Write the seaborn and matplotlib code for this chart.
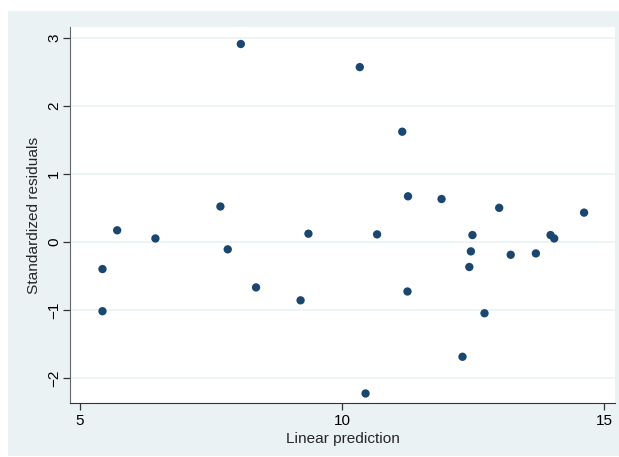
import numpy as np
import pandas as pd
import matplotlib
matplotlib.use("Agg")
import matplotlib.pyplot as plt
import seaborn as sns
from matplotlib.patches import Rectangle

# fitted values and standardized residuals
linear_prediction = [5.43, 5.43, 5.71, 6.44, 7.68, 7.82, 8.07, 8.36, 9.21, 9.36,
                     10.34, 10.45, 10.67, 11.15, 11.25, 11.26, 11.90, 12.30, 12.43, 12.46,
                     12.49, 12.72, 13.00, 13.22, 13.70, 13.98, 14.05, 14.62]
std_residuals = [-0.40, -1.02, 0.17, 0.05, 0.52, -0.11, 2.91, -0.67, -0.86, 0.12,
                 2.57, -2.23, 0.11, 1.62, -0.73, 0.67, 0.63, -1.69, -0.37, -0.14,
                 0.10, -1.05, 0.50, -0.19, -0.17, 0.10, 0.05, 0.43]
x_ticks = [5, 10, 15]
y_ticks = [-2, -1, 0, 1, 2, 3]

df = pd.DataFrame({"pred": linear_prediction, "resid": std_residuals})

sns.set_style("white")
plt.rcParams["font.family"] = ["Liberation Sans", "DejaVu Sans"]

panel = "#eaf2f3"
fig = plt.figure(figsize=(6.19, 4.57), dpi=100)
fig.add_artist(Rectangle((8 / 619, 1 / 457), 611 / 619, 445 / 457,
                         transform=fig.transFigure, facecolor=panel,
                         edgecolor="none", zorder=-10))
ax = fig.add_axes([70 / 619, 1 - 403 / 457, 545 / 619, 376 / 457])
ax.set_facecolor("white")

sns.scatterplot(data=df, x="pred", y="resid", ax=ax, color="#1a476f",
                s=36, edgecolor="none", zorder=3)

ax.set_xlim(4.81, 15.21)
ax.set_ylim(-2.37, 3.16)
ax.set_xticks(x_ticks)
ax.set_yticks(y_ticks)
ax.set_yticklabels(["\u22122", "\u22121", "0", "1", "2", "3"], rotation=90, va="center")
for t in y_ticks:
    ax.axhline(t, color=panel, lw=1.2, zorder=1)

for side in ["top", "right"]:
    ax.spines[side].set_visible(False)
ax.spines["left"].set_color("#666666")
ax.spines["bottom"].set_color("#333333")
ax.tick_params(axis="both", length=5, width=0.9, color="#333333",
               labelsize=11, labelcolor="black", left=True, bottom=True)
ax.tick_params(axis="x", pad=3)
ax.tick_params(axis="y", pad=1.5)

ax.set_xlabel("Linear prediction", fontsize=11.1, labelpad=3)
ax.set_ylabel("Standardized residuals", fontsize=11.1, labelpad=4)

plt.savefig("out.png", dpi=100)
